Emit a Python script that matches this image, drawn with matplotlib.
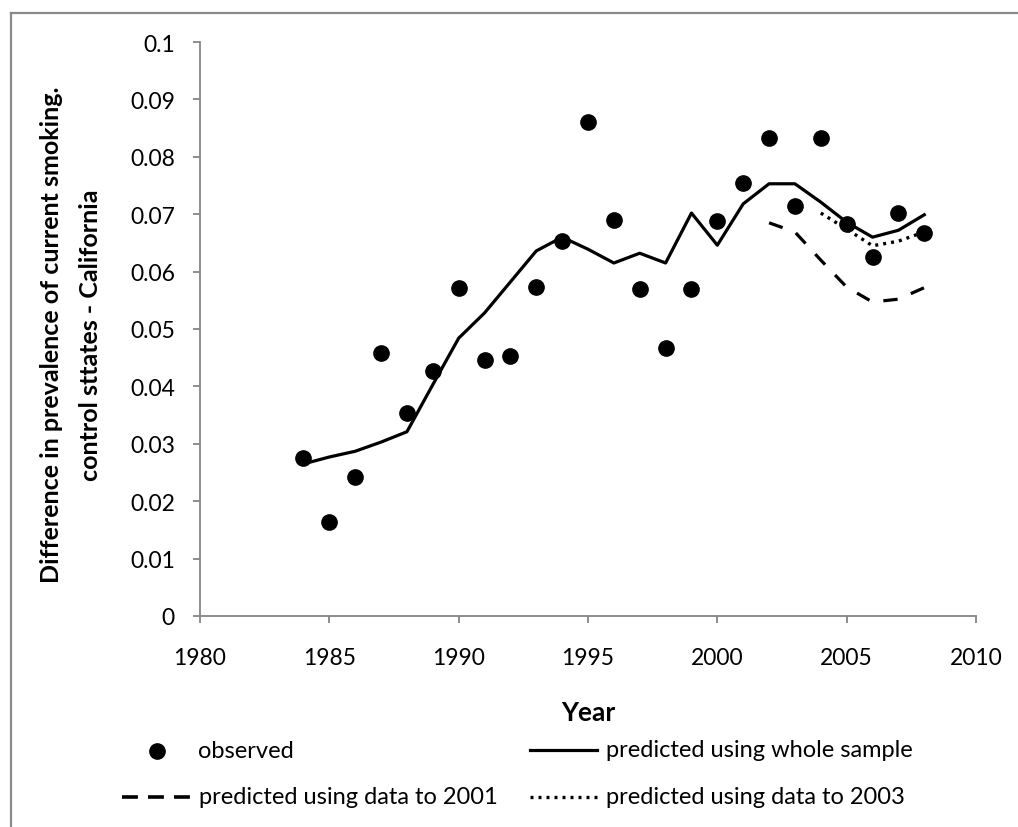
import matplotlib
matplotlib.use("Agg")
import matplotlib.pyplot as plt
from matplotlib.lines import Line2D

years = list(range(1984, 2009))
observed = [0.0275, 0.0164, 0.0242, 0.0458, 0.0354, 0.0427, 0.0571, 0.0446, 0.0453,
            0.0573, 0.0653, 0.0861, 0.0690, 0.0570, 0.0467, 0.0570, 0.0688, 0.0754,
            0.0833, 0.0714, 0.0833, 0.0683, 0.0625, 0.0702, 0.0667]
whole = [0.0265, 0.0277, 0.0287, 0.0303, 0.0321, 0.0403, 0.0484, 0.0528, 0.0582,
         0.0636, 0.0660, 0.0639, 0.0615, 0.0632, 0.0615, 0.0702, 0.0646, 0.0718,
         0.0753, 0.0753, 0.0721, 0.0686, 0.0660, 0.0672, 0.0699]
years_2001 = list(range(2002, 2009))
pred_2001 = [0.0685, 0.0669, 0.0620, 0.0573, 0.0547, 0.0552, 0.0572]
years_2003 = list(range(2004, 2009))
pred_2003 = [0.0702, 0.0674, 0.0645, 0.0653, 0.0669]

xticks = [1980, 1985, 1990, 1995, 2000, 2005, 2010]
yticks = [0, 0.01, 0.02, 0.03, 0.04, 0.05, 0.06, 0.07, 0.08, 0.09, 0.1]
ytick_labels = ["0", "0.01", "0.02", "0.03", "0.04", "0.05", "0.06", "0.07", "0.08", "0.09", "0.1"]

plt.rcParams['font.family'] = ['Lato', 'DejaVu Sans']
W, H = 1018, 828
fig = plt.figure(figsize=(W / 100, H / 100), dpi=100)
ax = fig.add_axes([200 / W, 1 - 617 / H, (976 - 200) / W, (617 - 43) / H])

gray = '#868686'
ax.plot(years, whole, color='black', lw=2.3, zorder=3)
ax.plot(years_2001, pred_2001, color='black', lw=2.3, dashes=(4.5, 4.5), zorder=3)
ax.plot(years_2003, pred_2003, color='black', lw=2.4, dashes=(0.9, 1.5), zorder=3)
ax.plot(years, observed, 'o', color='black', markersize=11, zorder=4, linestyle='none')

ax.set_xlim(1980, 2010)
ax.set_ylim(0, 0.1)
ax.set_xticks(xticks)
ax.set_yticks(yticks)
ax.set_yticklabels(ytick_labels)
for s in ['top', 'right']:
    ax.spines[s].set_visible(False)
for s in ['left', 'bottom']:
    ax.spines[s].set_color(gray)
    ax.spines[s].set_linewidth(1.3)
ax.tick_params(axis='both', colors=gray, length=5, width=1.3, labelcolor='black', labelsize=16.5)
ax.tick_params(axis='y', pad=13)
ax.tick_params(axis='x', pad=17)

fig.text(52 / W, 1 - 335 / H, "Difference in prevalence of current smoking.",
         rotation=90, ha='center', va='center', fontsize=18, fontweight='bold')
fig.text(91 / W, 1 - 335 / H, "control sttates - California",
         rotation=90, ha='center', va='center', fontsize=18, fontweight='bold')
fig.text(588 / W, 1 - 713 / H, "Year", ha='center', va='center', fontsize=19, fontweight='bold')

# Legend (manual)
def leg_line(x0, x1, y, **kw):
    fig.add_artist(Line2D([x0 / W, x1 / W], [1 - y / H, 1 - y / H], transform=fig.transFigure,
                          color='black', **kw))

fs_leg = 17
fig.add_artist(Line2D([157 / W], [1 - 752 / H], transform=fig.transFigure, marker='o',
                      color='black', markersize=11, linestyle='none'))
fig.text(198 / W, 1 - 752 / H, "observed", ha='left', va='center', fontsize=fs_leg)
leg_line(530, 597, 751, lw=2.3)
fig.text(606 / W, 1 - 751 / H, "predicted using whole sample", ha='left', va='center', fontsize=fs_leg)
leg_line(122, 190, 798, lw=2.6, dashes=(4.4, 2.8), solid_capstyle='butt', dash_capstyle='butt')
fig.text(199 / W, 1 - 798 / H, "predicted using data to 2001", ha='left', va='center', fontsize=fs_leg)
leg_line(530, 597, 798, lw=2.4, dashes=(0.9, 1.5))
fig.text(606 / W, 1 - 798 / H, "predicted using data to 2003", ha='left', va='center', fontsize=fs_leg)

# Frame lines (left and top)
fig.add_artist(Line2D([11 / W, 11 / W], [0, 1 - 14 / H], transform=fig.transFigure, color='#8a8a8a', lw=1.6))
fig.add_artist(Line2D([11 / W, 1], [1 - 14 / H, 1 - 14 / H], transform=fig.transFigure, color='#8a8a8a', lw=1.6))

fig.savefig("out.png", dpi=100)
